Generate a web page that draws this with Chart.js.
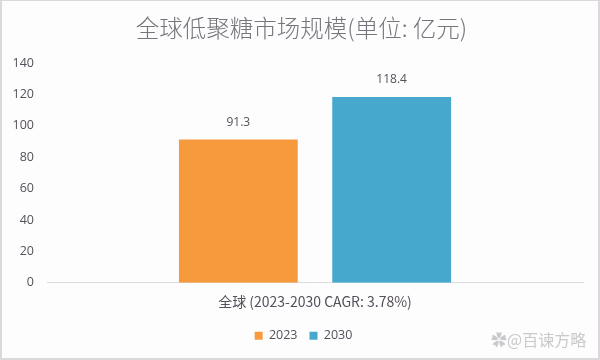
<!DOCTYPE html>
<html><head><meta charset="utf-8">
<script src="https://cdn.jsdelivr.net/npm/chart.js@4"></script>
<style>
html,body{margin:0;padding:0;background:#fff}
#w{position:relative;width:596px;height:357px;border:2px solid #dcd9dc;background:#fdfdfe;border-top-width:1px;border-bottom-width:2px}
</style></head><body>
<div id="w"><canvas id="c" width="596" height="357"></canvas></div>
<script>
const categories = ['全球 (2023-2030 CAGR: 3.78%)'];
const seriesNames = ['2023','2030'];
const values2023 = [91.3];
const values2030 = [118.4];
const yTicks = [0,20,40,60,80,100,120,140];
const titleText = '全球低聚糖市场规模(单位: 亿元)';
const watermark = '@百谏方略';
const sans = '"Noto Sans CJK SC","Open Sans",sans-serif';
const extras = {
  id:'extras',
  afterLayout(ch){
    ch.legend.left+=11; ch.legend.right+=11;
    ch.titleBlock.left+=9; ch.titleBlock.right+=9;
  },
  afterDatasetsDraw(ch){
    const g=ch.ctx; g.save();
    g.textAlign='center'; g.textBaseline='alphabetic'; g.fillStyle='#55505a'; g.font='12px "Open Sans",sans-serif';
    ch.data.datasets.forEach((d,i)=>{
      const b=ch.getDatasetMeta(i).data[0];
      g.fillText(d.data[0].toFixed(1), b.x, b.y-14);
    });
    g.textAlign='left'; g.fillStyle='#c9c9cc'; g.font='16px "Noto Sans CJK SC",sans-serif';
    g.fillText('✿'+watermark, 489, 345);
    g.restore();
  }
};
new Chart(document.getElementById('c'),{
  type:'bar',
  data:{labels:categories,datasets:[
    {label:seriesNames[0],data:values2023,backgroundColor:'#f79a3e',categoryPercentage:0.572,barPercentage:0.775},
    {label:seriesNames[1],data:values2030,backgroundColor:'#45a8cc',categoryPercentage:0.572,barPercentage:0.775}
  ]},
  options:{
    responsive:false,animation:false,
    layout:{padding:{left:0,right:15,top:0,bottom:6}},
    scales:{
      x:{afterFit(a){a.height+=4;},grid:{display:false},border:{color:'#dcdce0'},
         ticks:{color:'#55505a',font:{family:sans,size:14},padding:3}},
      y:{min:0,max:140,afterBuildTicks(a){a.ticks=yTicks.map(v=>({value:v}));},
         afterFit(a){a.width=45;},
         grid:{display:false},border:{display:false},
         ticks:{color:'#55505a',font:{family:'"Open Sans",sans-serif',size:12.5},padding:5}}
    },
    plugins:{
      title:{display:true,text:titleText,color:'#77757c',font:{family:sans,size:23.5,weight:'300'},padding:{top:13,bottom:21}},
      legend:{position:'bottom',labels:{boxWidth:8,boxHeight:8,padding:12,color:'#55505a',font:{family:'"Open Sans",sans-serif',size:12.5}}},
      tooltip:{enabled:false}
    }
  },
  plugins:[extras]
});
</script>
</body></html>
